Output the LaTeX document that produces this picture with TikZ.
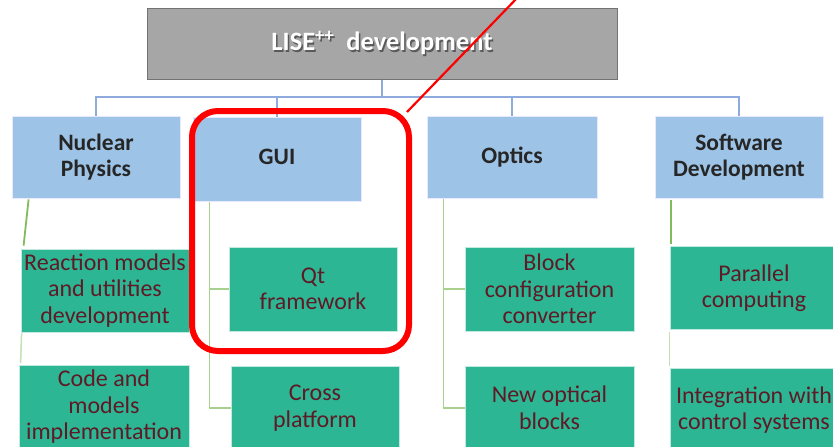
\documentclass[tikz,border=0pt]{standalone}
\usepackage{fontspec}
\setmainfont{Carlito}
\begin{document}
\begin{tikzpicture}[x=1pt,y=-1pt,
  titlebox/.style={draw=black!55,fill=black!35,line width=1pt,minimum width=470pt,minimum height=71pt,inner sep=0pt},
  bluebox/.style={draw=white!70!blue!30,fill=bluebg,line width=0.8pt,minimum width=168pt,minimum height=82pt,inner sep=0pt,align=center,font=\fontsize{23.5}{26.5}\selectfont\bfseries,text=black!85},
  greenbox/.style={draw=white!70!greenbg,fill=greenbg,line width=0.8pt,minimum width=168pt,minimum height=83pt,inner sep=0pt,align=center,font=\fontsize{24}{26.5}\selectfont,text=textred},
  blueline/.style={draw=lineblue,line width=1.3pt},
  greenline/.style={draw=linegreen,line width=1.5pt},
  darkgreenline/.style={draw=darkgreen,line width=1.8pt},
  lightgreenline/.style={draw=lightgreen,line width=1.5pt}]
\definecolor{bluebg}{HTML}{9DC3E6}
\definecolor{greenbg}{HTML}{2DB693}
\definecolor{textred}{HTML}{5E1A26}
\definecolor{lineblue}{HTML}{8FAADC}
\definecolor{linegreen}{HTML}{A9D18E}
\definecolor{darkgreen}{HTML}{82BC5A}
\definecolor{lightgreen}{HTML}{C5E0B4}
\useasboundingbox (0,0) rectangle (833,447);
\clip (0,0) rectangle (833,447);
\fill[white] (0,0) rectangle (833,447);
% title
\node[titlebox] (title) at (382,43.5) {};
\node[text=black!65,font=\fontsize{26.5}{30}\selectfont\bfseries] (titleshadow) at (383.5,44.5) {LISE\textsuperscript{++}\ \ development};
\node[text=white,font=\fontsize{26.5}{30}\selectfont\bfseries] (titletext) at (382,43) {LISE\textsuperscript{++}\ \ development};
% blue boxes
\node[bluebox] (np) at (96,157) {Nuclear\\Physics};
\node[bluebox,minimum height=84pt] (gui) at (277,159) {};
\node[font=\fontsize{23.5}{26.5}\selectfont\bfseries,text=black!85] (guitext) at (277,157) {GUI};
\node[bluebox,minimum width=170pt] (opt) at (512,157) {Optics};
\node[bluebox] (sw) at (739,157) {Software\\Development};
% green boxes
\node[greenbox] (rm) at (105,290.5) {Reaction models\\and utilities\\development};
\node[greenbox,minimum width=170pt] (cm) at (104,407) {Code and\\models\\implementation};
\node[greenbox,minimum height=84pt] (qt) at (313,289) {Qt\\framework};
\node[greenbox] (cp) at (315,408) {Cross\\platform};
\node[greenbox,minimum width=169pt,minimum height=84pt] (bc) at (549.5,289) {Block\\configuration\\converter};
\node[greenbox,minimum width=169pt] (nb) at (549.5,408) {New optical\\blocks};
\node[greenbox] (pc) at (754,288) {Parallel\\computing};
\node[greenbox] (ic) at (754,410) {Integration with\\control systems};
% blue connectors
\coordinate (bus) at (0,97);
\draw[blueline] (title.south) -- (title.south |- bus);
\draw[blueline] (np.north) -- (np.north |- bus) -- (sw.north |- bus) -- (sw.north);
\draw[blueline] (gui.north |- bus) -- (gui.north);
\draw[blueline] (opt.north |- bus) -- (opt.north);
% green connectors
\draw[darkgreenline] ([xshift=17pt,yshift=-1pt]np.south west) -- ([xshift=3pt,yshift=3pt]rm.north west);
\draw[lightgreenline] ([xshift=1pt,yshift=-1pt]rm.south west) -- ([xshift=2pt,yshift=2pt]cm.north west);
\draw[greenline] ([xshift=17pt,yshift=-1pt]gui.south west) |- (qt.west);
\draw[greenline] ([xshift=17pt,yshift=-1pt]gui.south west) |- (cp.west);
\draw[greenline] ([xshift=17pt,yshift=-1pt]opt.south west) |- (bc.west);
\draw[greenline] ([xshift=17pt,yshift=-1pt]opt.south west) |- (nb.west);
\draw[darkgreenline] ([xshift=16pt,yshift=-2pt]sw.south west) -- ([xshift=1pt,yshift=2pt]pc.north west);
\draw[lightgreenline] ([xshift=0pt,yshift=-2pt]pc.south west) -- ([xshift=0pt,yshift=2pt]ic.north west);
% highlight
\draw[red,line width=6pt,rounded corners=26pt] (192,111) rectangle (409,351);
\coordinate (hlA) at (407,112);
\coordinate (hlB) at (519,-4);
\draw[red,line width=2.2pt] (hlA) -- (hlB);
\end{tikzpicture}
\end{document}
